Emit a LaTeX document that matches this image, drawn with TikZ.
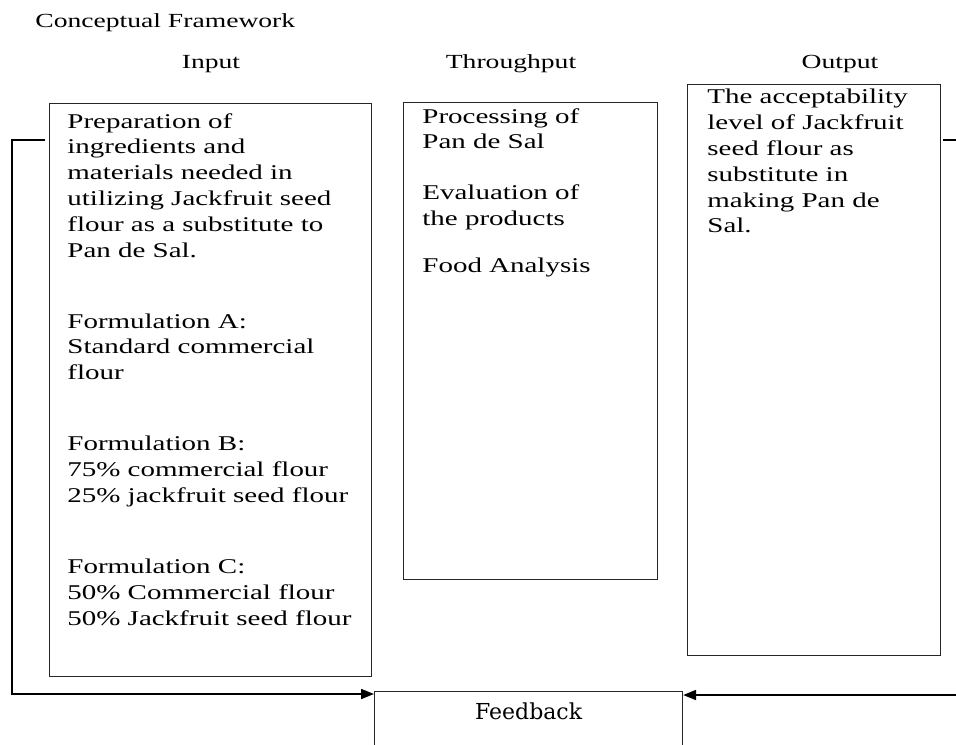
\documentclass[tikz,border=0pt]{standalone}
\usepackage{fontspec}
\setmainfont[FakeStretch=1.38]{Liberation Serif}
\newfontfamily\feedfont{DejaVu Serif}
\usetikzlibrary{arrows.meta}

\begin{document}
\begin{tikzpicture}[
        x=0.5pt, y=-0.5pt,
        box/.style={draw=black!85, line width=0.55pt, inner sep=0pt},
        boxtext/.style={anchor=north west, inner sep=0pt, align=left, font=\fontsize{10.5}{12.9}\selectfont},
        heading/.style={anchor=base, inner sep=0pt, font=\fontsize{10}{12}\selectfont},
        loop/.style={line width=0.9pt, -{Triangle[length=6.5pt, width=5pt]}}
    ]
        \useasboundingbox (0,0) rectangle (956,744);
        \clip (0,0) rectangle (956,744);

        % Headings
        \node[heading, anchor=base west] (title) at (35,27) {Conceptual Framework};
        \node[heading] (inhead) at (211,68) {Input};
        \node[heading] (thruhead) at (511,68) {Throughput};
        \node[heading] (outhead) at (840,68) {Output};

        % Boxes
        \node[box, minimum width=161pt, minimum height=286.5pt, anchor=north west] (input) at (49,103) {};
        \node[box, minimum width=127pt, minimum height=238.5pt, anchor=north west] (throughput) at (403,102) {};
        \node[box, minimum width=126.5pt, minimum height=285.5pt, anchor=north west] (output) at (687,84) {};
        \node[box, font=\feedfont\fontsize{11}{13}\selectfont, minimum width=154pt, inner ysep=5.5pt, text depth=30pt, anchor=north west] (feedback) at (374,691) {Feedback};

        % Box texts
        \node[boxtext] (intext) at (67,113) {Preparation of\\ ingredients and\\ materials needed in\\ utilizing Jackfruit seed\\ flour as a substitute to\\ Pan de Sal.\\[22.6pt]
            Formulation A:\\ Standard commercial\\ flour\\[22.6pt]
            Formulation B:\\ 75\% commercial flour\\ 25\% jackfruit seed flour\\[22.6pt]
            Formulation C:\\ 50\% Commercial flour\\ 50\% Jackfruit seed flour};
        \node[boxtext] (thrutext) at (422,108) {Processing of\\ Pan de Sal\\[12.5pt]
            Evaluation of\\ the products\\[10.5pt]
            Food Analysis};
        \node[boxtext] (outtext) at (707,89) {The acceptability\\ level of Jackfruit\\ seed flour as\\ substitute in\\ making Pan de\\ Sal.};

        % Feedback loops
        \coordinate (lturn) at (12,694);
        \coordinate (rturn) at (958,695);
        \draw[loop] ([xshift=-2pt, yshift=-18.5pt]input.north west) -| (lturn) -- (lturn -| feedback.west);
        \draw[loop] ([xshift=1pt, yshift=-28pt]output.north east) -| (rturn) -- (rturn -| feedback.east);
    \end{tikzpicture}
\end{document}
